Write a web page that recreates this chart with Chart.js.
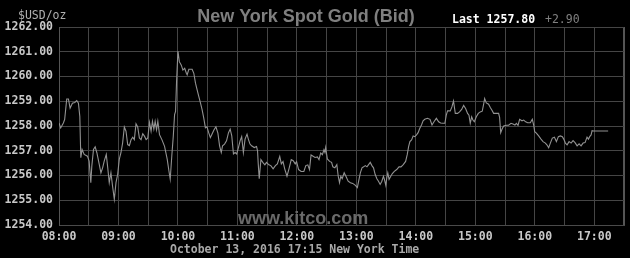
<!DOCTYPE html>
<html>
<head>
<meta charset="utf-8">
<script src="https://cdn.jsdelivr.net/npm/chart.js@4/dist/chart.umd.min.js"></script>
<style>
  html, body { margin: 0; padding: 0; background: #000; }
  canvas { display: block; }
</style>
</head>
<body>
<canvas id="chart" width="630" height="258"></canvas>
<script>
// minutes after 08:00 New York time
const minutes = [
    0, 1.7, 4.4, 5.7, 7.8, 9.5, 11.2, 13.5, 15.9, 17.9, 19.6, 21, 22, 23.3, 25.4, 28.7, 30.4, 32.1, 33.1, 34.8,
    36.5, 38.2, 40.6, 42.3, 44, 45.6, 47.7, 49, 50.7, 52.4, 54, 55.8, 57.5, 59.2, 60.8, 62.5, 64.2, 65.9, 67.6, 69.3,
    71, 72.7, 74.4, 76, 77.7, 79.4, 81.1, 82.8, 84.5, 86.2, 87.9, 89.6, 91.3, 92.9, 94.3, 95.7, 97, 98.4, 99.7, 101.4,
    103.8, 106.5, 109.2, 110.9, 112.2, 113.9, 115.3, 116.6, 117.6, 118.6, 120, 121.4, 123.4, 125, 126.8, 128.5, 129.3, 131, 134.3, 136,
    137.7, 139.3, 141, 142.7, 144.3, 146, 147.7, 149.3, 151, 152.7, 154.3, 156.3, 158.3, 160.3, 162, 163.7, 165, 167, 169, 171,
    172.7, 174.3, 176, 177.7, 179.3, 181, 182.7, 184.3, 186, 187.7, 189.7, 191, 192.7, 194.3, 197, 199.3, 200.3, 201, 202, 203.7,
    206, 207.7, 209.3, 211.7, 213.7, 216, 218.3, 220.3, 222.7, 224.3, 226, 227.7, 230, 232, 234.3, 236.3, 238.3, 239.7, 241.7, 244.3,
    247, 249, 251, 252.7, 254.3, 258.3, 260.7, 262.3, 264, 265.7, 267.3, 268.3, 269, 270.7, 273, 275, 276.3, 278.3, 280.3, 281.7,
    283, 284.3, 285.7, 287.7, 289.7, 291.7, 294, 296.3, 299, 301, 302.3, 304, 305.7, 307.3, 309, 310.7, 312.3, 314, 315.7, 317.3,
    319, 320.7, 322.3, 324, 325.7, 327.3, 328.3, 329.7, 330.7, 331.7, 333, 334.7, 336.3, 338.3, 340.7, 343, 345, 347.3, 349.7, 351.3,
    352.7, 354, 355.7, 357.3, 359, 360.7, 362.3, 364, 365.7, 367.3, 369, 371.7, 374.3, 376.3, 378.3, 380.7, 383, 385, 387.3, 389.3,
    390.7, 392, 394.7, 396.4, 398, 399.8, 402.1, 404.1, 406.2, 408.2, 410.2, 412.2, 413.6, 414.9, 416.3, 417.6, 419, 421, 423, 425,
    427, 428.4, 429.4, 431.1, 433.4, 435.1, 436.8, 438.5, 441.2, 443.5, 444.5, 445.6, 446.9, 448.6, 451.3, 453.6, 456, 458, 460, 461.4,
    463.1, 464.7, 467.1, 468.8, 470.8, 472.8, 475.5, 477.5, 478.9, 479.9, 481.6, 483.9, 486.3, 488.3, 490.7, 492.4, 494, 495.7, 497.7, 499.8,
    501.8, 503.8, 505.8, 507.8, 509.2, 510.9, 512.6, 514.6, 516.6, 518.6, 520.6, 522.7, 524.7, 526.7, 528.7, 530.7, 532.7, 534.1, 535.4, 536.8,
    537.8, 539.5, 554
];
const bids = [
    1258.12, 1257.92, 1258.12, 1258.26, 1259.09, 1259.09, 1258.72, 1258.92, 1258.95, 1259.03, 1258.92, 1258.39, 1256.72, 1257.05, 1256.85, 1256.78, 1256.58, 1255.71, 1256.38, 1257.05,
    1257.16, 1256.92, 1256.45, 1256.11, 1256.31, 1256.58, 1256.85, 1256.38, 1255.71, 1256.11, 1255.58, 1255.04, 1255.71, 1256.05, 1256.65, 1256.92, 1257.32, 1257.96, 1257.79, 1257.25,
    1257.21, 1257.45, 1257.55, 1257.45, 1258.09, 1257.96, 1257.52, 1257.45, 1257.69, 1257.59, 1257.45, 1257.52, 1258.15, 1257.79, 1258.19, 1257.88, 1258.19, 1257.85, 1258.19, 1257.65,
    1257.45, 1257.18, 1256.65, 1256.18, 1255.85, 1256.85, 1257.59, 1258.46, 1258.59, 1259.80, 1261.03, 1260.60, 1260.46, 1260.26, 1260.33, 1260.13, 1260.07, 1260.29, 1260.29, 1260.13,
    1259.73, 1259.47, 1259.20, 1258.93, 1258.67, 1258.33, 1257.93, 1257.97, 1257.73, 1257.53, 1257.67, 1257.84, 1257.97, 1257.71, 1257.20, 1256.93, 1257.20, 1257.27, 1257.40, 1257.73,
    1257.87, 1257.60, 1256.87, 1256.93, 1256.87, 1257.13, 1257.40, 1257.57, 1256.93, 1257.47, 1257.67, 1257.47, 1257.27, 1257.20, 1257.13, 1257.17, 1257.00, 1256.47, 1255.87, 1256.64,
    1256.51, 1256.43, 1256.53, 1256.43, 1256.40, 1256.27, 1256.40, 1256.47, 1256.77, 1256.47, 1256.56, 1256.27, 1255.97, 1256.27, 1256.64, 1256.60, 1256.47, 1256.56, 1256.24, 1256.16,
    1256.16, 1256.40, 1256.43, 1256.24, 1256.83, 1256.73, 1256.75, 1256.64, 1256.91, 1256.84, 1257.04, 1256.93, 1257.13, 1256.67, 1256.57, 1256.53, 1256.35, 1256.31, 1256.44, 1255.97,
    1255.71, 1255.97, 1255.87, 1256.11, 1255.95, 1255.77, 1255.71, 1255.68, 1255.60, 1255.51, 1255.77, 1256.11, 1256.31, 1256.35, 1256.40, 1256.35, 1256.44, 1256.53, 1256.40, 1256.31,
    1256.04, 1255.87, 1255.77, 1255.64, 1255.77, 1255.97, 1255.84, 1255.60, 1255.91, 1256.11, 1255.84, 1255.97, 1256.08, 1256.17, 1256.24, 1256.35, 1256.35, 1256.44, 1256.57, 1256.84,
    1257.17, 1257.37, 1257.44, 1257.60, 1257.57, 1257.64, 1257.73, 1257.91, 1258.04, 1258.21, 1258.27, 1258.31, 1258.27, 1258.04, 1258.17, 1258.31, 1258.17, 1258.12, 1258.11, 1258.11,
    1258.44, 1258.61, 1258.61, 1258.77, 1259.01, 1258.51, 1258.51, 1258.57, 1258.67, 1258.83, 1258.71, 1258.51, 1258.44, 1258.11, 1258.37, 1258.24, 1258.17, 1258.37, 1258.51, 1258.57,
    1258.60, 1258.88, 1259.11, 1258.93, 1258.88, 1258.75, 1258.64, 1258.51, 1258.51, 1258.51, 1258.35, 1257.73, 1257.87, 1258.00, 1258.03, 1258.03, 1258.11, 1258.08, 1258.04, 1258.11,
    1258.03, 1258.27, 1258.21, 1258.24, 1258.17, 1258.13, 1258.13, 1258.27, 1258.04, 1257.77, 1257.71, 1257.60, 1257.47, 1257.37, 1257.31, 1257.23, 1257.12, 1257.31, 1257.51, 1257.55,
    1257.37, 1257.57, 1257.60, 1257.57, 1257.47, 1257.31, 1257.24, 1257.37, 1257.31, 1257.41, 1257.33, 1257.20, 1257.28, 1257.20, 1257.31, 1257.33, 1257.55, 1257.47, 1257.57, 1257.64,
    1257.81, 1257.80, 1257.80
];
const hourLabels = ['08:00', '09:00', '10:00', '11:00', '12:00', '13:00', '14:00', '15:00', '16:00', '17:00'];
const priceTicks = [1254, 1255, 1256, 1257, 1258, 1259, 1260, 1261, 1262];

const mono = 'DejaVu Sans Mono';

// header, watermark and footer texts
const kitcoText = {
    id: 'kitcoText',
    beforeDatasetsDraw(chart) {
        const ctx = chart.ctx;
        ctx.save();
        ctx.fillStyle = '#6a6a6a';
        ctx.font = 'bold 18px "Liberation Sans", Arial, sans-serif';
        ctx.textAlign = 'left';
        ctx.textBaseline = 'alphabetic';
        ctx.fillText('www.kitco.com', 238, 224);
        ctx.restore();
    },
    afterDraw(chart) {
        const ctx = chart.ctx;
        ctx.save();
        ctx.textBaseline = 'alphabetic';
        ctx.textAlign = 'center';
        ctx.fillStyle = '#7f7f7f';
        ctx.font = 'bold 18px "Liberation Sans", Arial, sans-serif';
        ctx.fillText('New York Spot Gold (Bid)', 306, 21.5);

        ctx.textAlign = 'left';
        ctx.font = '11.5px "' + mono + '"';
        ctx.fillStyle = '#b0b0b0';
        ctx.fillText('$USD/oz', 18, 18.5);

        ctx.font = 'bold 11.5px "' + mono + '"';
        ctx.fillStyle = '#ffffff';
        ctx.fillText('Last 1257.80', 452, 23);
        ctx.font = '11.5px "' + mono + '"';
        ctx.fillStyle = '#808080';
        ctx.fillText('+2.90', 545, 23);

        ctx.font = 'bold 11.5px "' + mono + '"';
        ctx.fillStyle = '#a8a8a8';
        ctx.fillText('October 13, 2016 17:15 New York Time', 170, 252.5);
        ctx.restore();
    },
};

new Chart(document.getElementById('chart'), {
    type: 'line',
    data: {
        datasets: [{
            data: minutes.map((m, i) => ({ x: m, y: bids[i] })),
            borderColor: '#929292',
            borderWidth: 1.1,
            pointRadius: 0,
            tension: 0,
            fill: false,
        }],
    },
    options: {
        responsive: false,
        animation: false,
        events: [],
        layout: { padding: { top: 27, right: 6, left: 0, bottom: 0 } },
        plugins: {
            legend: { display: false },
            tooltip: { enabled: false },
        },
        scales: {
            x: {
                type: 'linear',
                min: 0,
                max: 570,
                afterFit: (scale) => { scale.height = 33; },
                afterBuildTicks: (scale) => {
                    scale.ticks = [];
                    for (let v = 0; v <= 570; v += 30) scale.ticks.push({ value: v });
                },
                grid: {
                    color: (c) => (c.tick && c.tick.value === 570 ? '#555555' : '#454545'),
                    lineWidth: (c) => (c.tick && c.tick.value === 570 ? 2 : 1),
                    drawTicks: false,
                },
                border: { color: '#4a4a4a' },
                ticks: {
                    autoSkip: false,
                    maxRotation: 0,
                    minRotation: 0,
                    padding: 5,
                    color: '#c8c8c8',
                    font: { family: mono, size: 11.5, weight: 'bold' },
                    callback: (v) => (v % 60 === 0 && v / 60 < hourLabels.length ? hourLabels[v / 60] : ''),
                },
            },
            y: {
                min: priceTicks[0],
                max: priceTicks[priceTicks.length - 1],
                afterFit: (scale) => { scale.width = 59; },
                afterBuildTicks: (scale) => {
                    scale.ticks = priceTicks.map((v) => ({ value: v }));
                },
                grid: { color: '#454545', drawTicks: false },
                border: { color: '#555555' },
                ticks: {
                    padding: 6,
                    color: '#c8c8c8',
                    font: { family: mono, size: 11.5, weight: 'bold' },
                    callback: (v) => v.toFixed(2),
                },
            },
        },
    },
    plugins: [kitcoText],
});
</script>
</body>
</html>
